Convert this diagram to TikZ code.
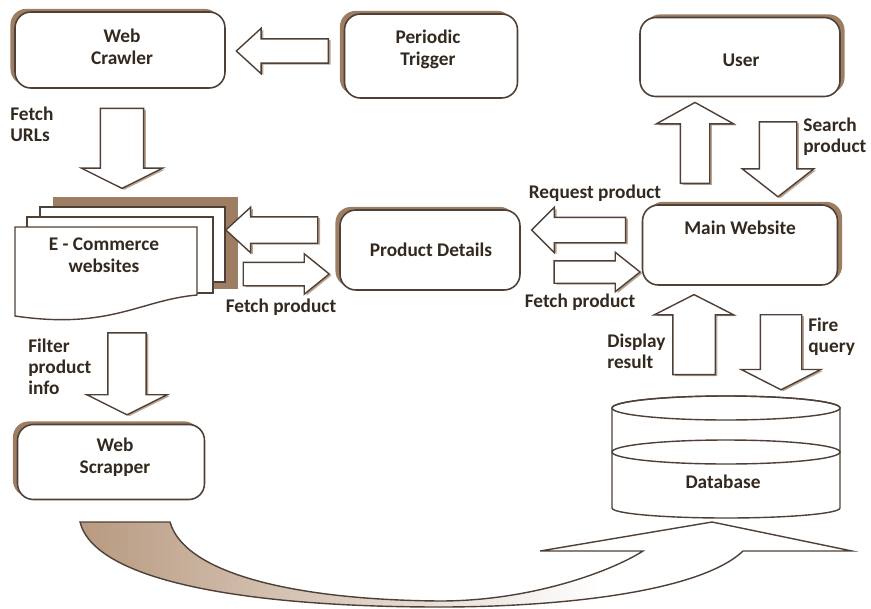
\documentclass[tikz,border=0pt]{standalone}
\usepackage{fontspec}
\setmainfont{Carlito}
\usetikzlibrary{shapes.arrows, shadows}

\definecolor{edgebrown}{HTML}{4E4037}
\definecolor{shadowbrown}{HTML}{9E7E63}
\definecolor{bandbrown}{HTML}{B89A80}
\definecolor{inkbrown}{HTML}{33291F}

\tikzset{
  box/.style 2 args={draw=edgebrown, line width=0.9pt, fill=white, rounded corners=9pt,
    minimum width=#1, minimum height=#2, inner sep=0pt},
  shadowleft/.style={drop shadow={shadow xshift=-2.6pt, shadow yshift=1.8pt, fill=shadowbrown, opacity=1}},
  shadowright/.style={drop shadow={shadow xshift=2.6pt, shadow yshift=1.8pt, fill=shadowbrown, opacity=1}},
  barrow/.style n args={4}{single arrow, draw=edgebrown, line width=0.8pt, fill=white,
    inner sep=#2, minimum height=#1, single arrow head extend=#3, single arrow tip angle=#4,
    drop shadow={shadow xshift=1.3pt, shadow yshift=-0.8pt, fill=shadowbrown!70, opacity=1}},
  boxtext/.style={font=\bfseries\fontsize{11}{12.5}\selectfont, text=inkbrown, align=center, inner sep=0pt},
  lbl/.style={font=\bfseries\fontsize{11}{12}\selectfont, text=inkbrown, align=left, inner sep=0pt},
  docline/.style={draw=edgebrown, line width=0.8pt, fill=white}
}

\begin{document}
\begin{tikzpicture}[x=0.02cm, y=-0.02cm]
\useasboundingbox (0,0) rectangle (871,608);

% return arrow from the scrapper to the database
\path[save path=\returnpath] (80,522) -- (170,522) .. controls (185,575) and (300,600) .. (440,601)
  .. controls (530,601) and (610,572) .. (643,551) -- (540,551) -- (712,522) -- (852,551) -- (743,551)
  .. controls (700,592) and (560,607) .. (440,607) .. controls (250,607) and (95,582) .. (80,522) -- cycle;
\begin{scope}
\clip[use path=\returnpath];
\shade[left color=bandbrown, middle color=bandbrown!80, right color=white] (80,510) rectangle (600,610);
\end{scope}
\draw[draw=edgebrown, line width=0.8pt, use path=\returnpath];

\node[box={4.2cm}{1.52cm}, shadowleft] (crawler) at (120,50) {};
\node[boxtext] (crawlertxt) at (122,47) {Web\\Crawler};
\node[box={3.46cm}{1.68cm}, shadowleft] (trigger) at (431,56) {};
\node[boxtext] (triggertxt) at (428,49) {Periodic\\Trigger};
\node[box={4cm}{1.58cm}, shadowright] (user) at (740,57) {};
\node[boxtext] (usertxt) at (741,60) {User};
\node[box={3.6cm}{1.6cm}, shadowleft] (pd) at (430,250) {};
\node[boxtext] (pdtxt) at (431,250) {Product Details};
\node[box={3.9cm}{1.6cm}, shadowright] (main) at (740,245) {};
\node[boxtext] (maintxt) at (740,228) {Main Website};
\node[box={3.74cm}{1.5cm}, shadowleft] (scrapper) at (111,462) {};
\node[boxtext] (scrappertxt) at (115,457) {Web\\Scrapper};

% stack of e-commerce pages
\fill[shadowbrown] (53,197) rectangle (238,289);
\filldraw[docline] (40,207) rectangle (225,282);
\filldraw[docline] (27,217) rectangle (213,293);
\filldraw[docline] (15,227) -- (197,227) -- (197,295) .. controls (140,300) and (110,330) .. (15,316) -- cycle;
\node[boxtext] (ecom) at (104,255) {E - Commerce\\websites};

% database
\filldraw[fill=white, draw=edgebrown, line width=0.8pt] (612,408) -- (612,508)
  arc[start angle=180, end angle=360, x radius=2.28cm, y radius=0.2cm] -- (840,408)
  arc[start angle=0, end angle=180, x radius=2.28cm, y radius=0.24cm] -- cycle;
\draw[draw=edgebrown, line width=0.8pt] (726,408) ellipse [x radius=2.28cm, y radius=0.24cm];
\draw[draw=edgebrown, line width=0.8pt] (726,452) ellipse [x radius=2.28cm, y radius=0.24cm];
\node[boxtext] (db) at (723,482) {Database};

% block arrows
\node[barrow={1.84cm}{0.23cm}{0.21cm}{85}, shape border rotate=180] (trig2crawl) at (289,51) {};
\node[barrow={1.6cm}{0.42cm}{0.38cm}{127}, shape border rotate=270] (crawl2ecom) at (122,143) {};
\node[barrow={1.64cm}{0.37cm}{0.42cm}{127}, shape border rotate=270] (ecom2scrap) at (127,369) {};
\node[barrow={1.84cm}{0.25cm}{0.19cm}{85}, shape border rotate=180] (pd2ecom) at (279,230) {};
\node[barrow={1.72cm}{0.22cm}{0.17cm}{78}] (ecom2pd) at (279,274) {};
\node[barrow={1.88cm}{0.24cm}{0.2cm}{90}, shape border rotate=180] (main2pd) at (585,230) {};
\node[barrow={1.72cm}{0.21cm}{0.17cm}{77}] (pd2main) at (590,272) {};
\node[barrow={1.62cm}{0.28cm}{0.48cm}{122}, shape border rotate=90] (main2user) at (695,147) {};
\node[barrow={1.5cm}{0.36cm}{0.34cm}{104}, shape border rotate=270] (user2main) at (778,152) {};
\node[barrow={1.6cm}{0.41cm}{0.37cm}{126}, shape border rotate=90] (db2main) at (694,340) {};
\node[barrow={1.5cm}{0.40cm}{0.38cm}{126}, shape border rotate=270] (main2db) at (781,347) {};

\node[lbl, anchor=west] (fetchurls) at (10,124) {Fetch\\URLs};
\node[lbl, anchor=west] (filterinfo) at (28,367) {Filter\\product\\info};
\node[lbl] (fetchleft) at (281,307) {Fetch product};
\node[lbl] (request) at (595,193) {Request product};
\node[lbl] (fetchright) at (580,302) {Fetch product};
\node[lbl, anchor=west] (search) at (803,137) {Search\\product};
\node[lbl, anchor=west] (display) at (607,351) {Display\\result};
\node[lbl, anchor=west] (fire) at (808,337) {Fire\\query};
\end{tikzpicture}
\end{document}
